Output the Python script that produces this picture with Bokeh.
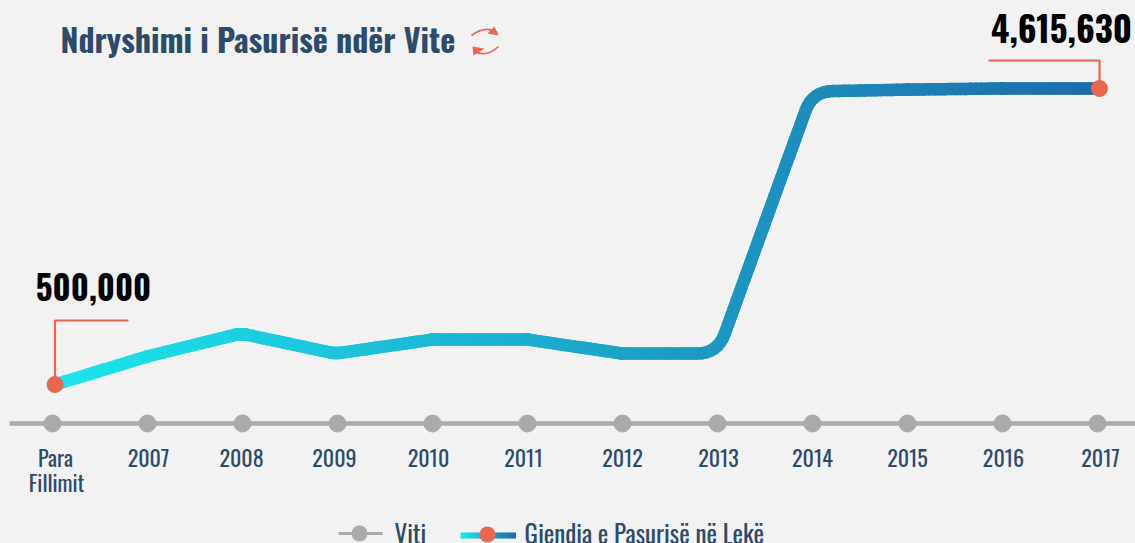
import math
from bokeh.plotting import figure
from bokeh.models import FixedTicker, Range1d
from bokeh.core.properties import value
from bokeh.embed import file_html
from bokeh.resources import INLINE

# ---- data ----
TITLE = "Ndryshimi i Pasurisë ndër Vite"
categories = ["Para\nFillimit", "2007", "2008", "2009", "2010", "2011", "2012", "2013", "2014", "2015", "2016", "2017"]
wealth = [500000, 890000, 1210000, 930000, 1125000, 1125000, 930000, 930000, 4575000, 4600000, 4615630, 4615630]
first_label = "500,000"
last_label = "4,615,630"
legend_grey = "Viti"
legend_line = "Gjendia e Pasurisë në Lekë"

# ---- style ----
BG, GREY, RED, NAVY = "#f2f2f2", "#aaaaaa", "#e8654e", "#2e4a6b"
RAMP_A, RAMP_B = (27, 230, 236), (29, 106, 170)
FONT = "Oswald"
W, H = 1135, 543
FL, FR, FT, FB = 9, 1135, 64, 423          # frame edges in page pixels
X0, DX = 52.0, 95.0                        # category 0 position and spacing
V0, Y0, VPP = 500000.0, 384.0, 13904.0     # value scale
label_nudge = [3, 1, -1, -3, -4, -4, 0, 1, 0, 0, 1, 3]   # px shift of each tick label


def dx(px):
    return (px - X0) / DX


def dy(py):
    return V0 + (Y0 - py) * VPP


def px_of(v):
    return Y0 - (v - V0) / VPP


def ramp(t):
    t = max(0.0, min(1.0, t))
    c = [round(a + (b - a) * t) for a, b in zip(RAMP_A, RAMP_B)]
    return "#%02x%02x%02x" % tuple(c)


def label(px, py, text, size, color, align="left", style="normal"):
    # the svg backend draws alphabetic text about half an em low
    p.text([dx(px)], [dy(py - 0.485 * size)], text=[text], text_font=value(FONT), text_font_size=f"{size}px",
           text_font_style=style, text_color=color, text_align=align,
           text_baseline="alphabetic", level="overlay")


p = figure(width=W, height=H, output_backend="svg", toolbar_location=None,
           x_range=Range1d(dx(FL), dx(FR)), y_range=Range1d(dy(FB), dy(FT)),
           min_border_left=FL, min_border_right=0, min_border_top=FT, min_border_bottom=H - FB,
           background_fill_color=BG, border_fill_color=BG, outline_line_color=None,
           y_axis_location=None)
p.grid.visible = False

p.title.text = TITLE
p.title.align = "left"
p.title.offset = 51
p.title.text_font = FONT
p.title.text_font_style = "bold"
p.title.text_font_size = "32px"
p.title.text_color = NAVY
p.title.standoff = 5

ax = p.xaxis[0]
tick_pos = [round(i + n / DX, 4) for i, n in enumerate(label_nudge)]
ax.ticker = FixedTicker(ticks=tick_pos)
ax.major_label_overrides = {t: c.split("\n")[0] for t, c in zip(tick_pos, categories)}
ax.axis_line_color = GREY
ax.axis_line_width = 4.5
ax.major_tick_line_color = None
ax.minor_tick_line_color = None
ax.major_label_standoff = 11
ax.major_label_text_font = FONT
ax.major_label_text_font_size = "22px"
ax.major_label_text_color = NAVY
label(56, 492, categories[0].split("\n")[1], 22, NAVY, align="center")

# grey dots on the axis
xs = list(range(len(categories)))
p.scatter(xs, [dy(FB)] * len(xs), size=17, color=GREY, level="overlay")

# rounded, gradient line built from the values
nudge = {0: 2.5, 2: -2, 3: -2, len(xs) - 1: 2}
pts = [(X0 + DX * i + nudge.get(i, 0), px_of(v)) for i, v in enumerate(wealth)]
RAD = 30.0
path = [pts[0]]
for a, b, c in zip(pts, pts[1:], pts[2:]):
    l1, l2 = math.dist(a, b), math.dist(b, c)
    cosang = ((b[0] - a[0]) * (c[0] - b[0]) + (b[1] - a[1]) * (c[1] - b[1])) / (l1 * l2)
    turn = math.acos(max(-1, min(1, cosang)))
    r = min(RAD * math.tan(turn / 2), l1 / 2, l2 / 2)
    s = (b[0] + (a[0] - b[0]) * r / l1, b[1] + (a[1] - b[1]) * r / l1)
    e = (b[0] + (c[0] - b[0]) * r / l2, b[1] + (c[1] - b[1]) * r / l2)
    for k in range(9):
        t = k / 8
        path.append(((1 - t) ** 2 * s[0] + 2 * t * (1 - t) * b[0] + t ** 2 * e[0],
                     (1 - t) ** 2 * s[1] + 2 * t * (1 - t) * b[1] + t ** 2 * e[1]))
path.append(pts[-1])
fine = [path[0]]
for a, b in zip(path, path[1:]):
    n = max(1, int(math.dist(a, b) / 5))
    for k in range(1, n + 1):
        fine.append((a[0] + (b[0] - a[0]) * k / n, a[1] + (b[1] - a[1]) * k / n))
xa, xb = pts[0][0], pts[-1][0]
p.segment([dx(a[0]) for a in fine[:-1]], [dy(a[1]) for a in fine[:-1]],
          [dx(b[0]) for b in fine[1:]], [dy(b[1]) for b in fine[1:]],
          line_width=12.5, line_cap="round",
          line_color=[ramp((a[0] - xa) / (xb - xa)) for a in fine[:-1]])

# leaders and end dots
x1, y1 = pts[0]
x2, y2 = pts[-1]
p.line([dx(x1), dx(x1), dx(128)], [dy(y1), dy(320), dy(320)], line_color=RED, line_width=2.2, level="overlay")
p.line([dx(x2), dx(x2), dx(988)], [dy(y2), dy(60), dy(60)], line_color=RED, line_width=2.2, level="overlay")
p.scatter([dx(x1), dx(x2)], [dy(y1), dy(y2)], size=16, color=RED, level="overlay")

label(93, 303, first_label, 33, "#000000", align="center", style="bold")
label(1061, 45, last_label, 35, "#000000", align="center", style="bold")

# refresh icon beside the title
p.quadratic([dx(471)], [dy(35)], [dx(497)], [dy(32)], [dx(485)], [dy(24.5)], line_color=RED, line_width=1.6, level="overlay")
p.quadratic([dx(498)], [dy(46)], [dx(473)], [dy(50)], [dx(485)], [dy(58)], line_color=RED, line_width=1.6, level="overlay")
p.patch([dx(494), dx(498), dx(487)], [dy(26), dy(35), dy(33)], color=RED, line_width=0, level="overlay")
p.patch([dx(472), dx(473), dx(484)], [dy(46), dy(55), dy(48)], color=RED, line_width=0, level="overlay")


# legend (below the frame, so lines rather than culled markers)
def dot(px, py, size, color):
    p.line([dx(px), dx(px + 0.01)], [dy(py), dy(py)], line_color=color, line_width=size, line_cap="round", level="overlay")


p.line([dx(338), dx(382)], [dy(533), dy(533)], line_color=GREY, line_width=3, level="overlay")
dot(359, 533, 16, GREY)
label(394, 544, legend_grey, 25, NAVY)
sw = [460 + 55 * k / 20 for k in range(21)]
p.segment([dx(s) for s in sw[:-1]], [dy(535)] * 20, [dx(s + 0.6) for s in sw[1:]], [dy(535)] * 20,
          line_width=6, line_color=[ramp(k / 19) for k in range(20)], level="overlay")
dot(487, 534, 16, RED)
label(524, 544, legend_line, 25, NAVY)

html = file_html(p, INLINE)
html = html.replace("<head>", "<head><style>html,body{margin:0;padding:0;overflow:hidden;background:%s}</style>" % BG, 1)
open("out.html", "w").write(html)
